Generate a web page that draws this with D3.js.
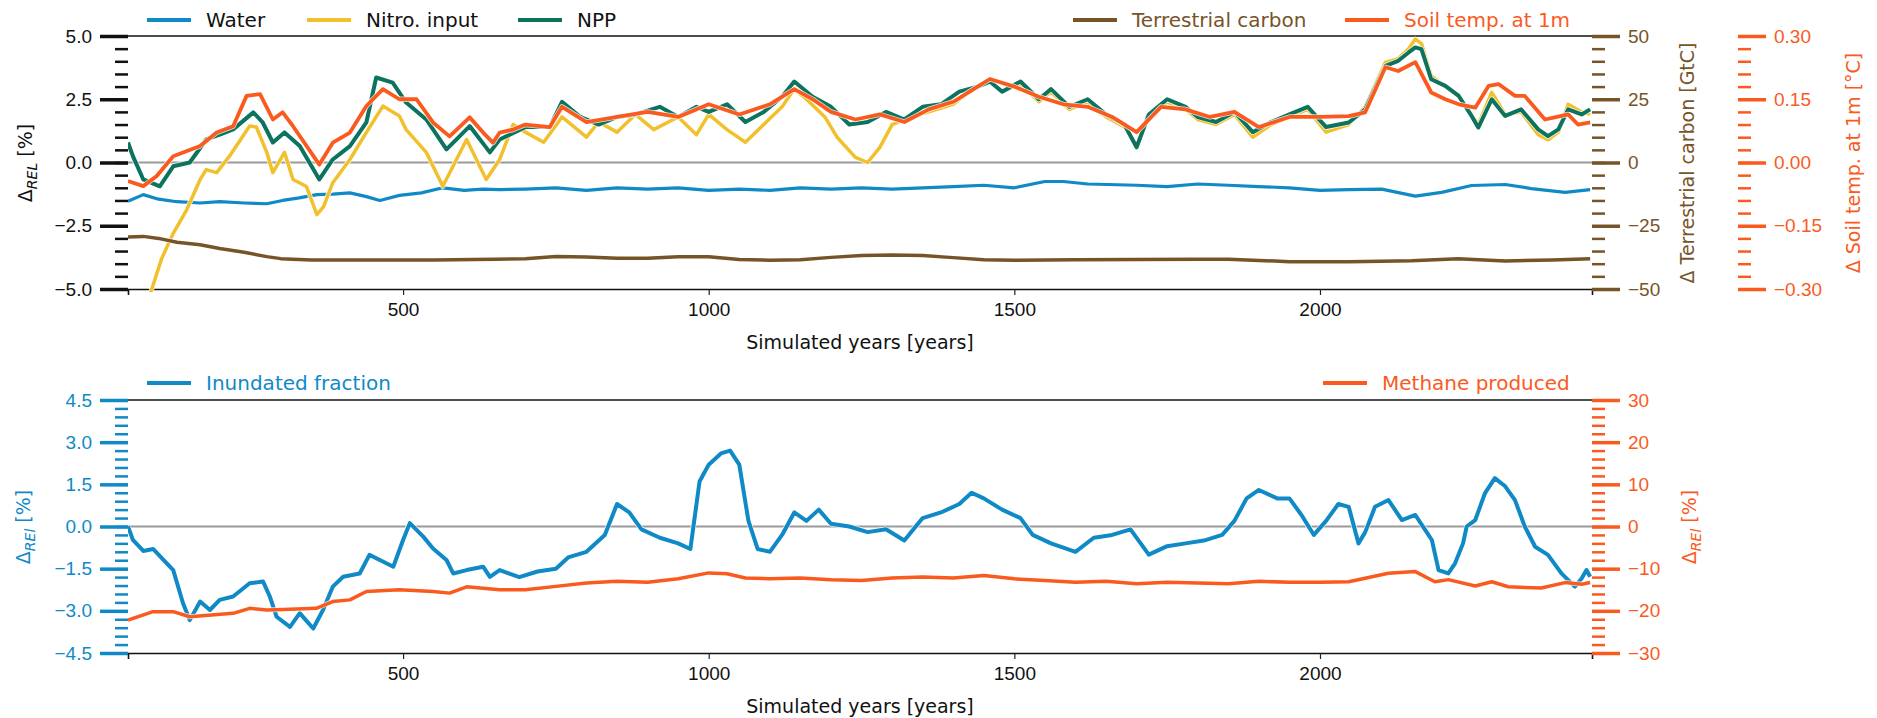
<!DOCTYPE html>
<html>
<head>
<meta charset="utf-8">
<script src="https://cdn.jsdelivr.net/npm/d3@7"></script>
<style>
  body { margin: 0; background: #fff; }
  svg { font-family: "DejaVu Sans", sans-serif; }
</style>
</head>
<body>
<div id="chart"></div>
<script>
// ---- data ----
const waterYears = [50,75,100,130,168,200,240,277,303,330,359,385,413,440,462,494,530,565,600,630,658,700,750,800,850,900,950,1000,1050,1100,1150,1200,1250,1300,1350,1400,1450,1500,1550,1580,1620,1700,1750,1800,1850,1900,1950,2000,2047,2101,2156,2199,2248,2303,2346,2401,2442];
const waterValues = [-1.53,-1.27,-1.45,-1.55,-1.6,-1.55,-1.6,-1.63,-1.5,-1.4,-1.27,-1.25,-1.2,-1.35,-1.5,-1.3,-1.2,-1.0,-1.1,-1.05,-1.07,-1.05,-1.0,-1.1,-1.0,-1.05,-1.0,-1.1,-1.05,-1.1,-1.0,-1.05,-1.0,-1.05,-1.0,-0.95,-0.9,-1.0,-0.75,-0.75,-0.85,-0.9,-0.95,-0.85,-0.9,-0.95,-1.0,-1.1,-1.07,-1.05,-1.33,-1.18,-0.91,-0.87,-1.03,-1.18,-1.07];

const nitroYears = [50,70,89,105,124,146,168,178,195,216,249,260,277,287,306,320,342,359,370,385,413,440,467,494,505,538,565,604,636,658,680,700,730,760,800,820,850,880,910,950,980,1000,1030,1060,1090,1120,1140,1160,1190,1210,1240,1260,1280,1300,1330,1360,1400,1430,1460,1480,1510,1540,1560,1590,1620,1650,1680,1700,1720,1750,1780,1800,1830,1860,1890,1920,1950,1980,2010,2047,2074,2107,2128,2145,2156,2166,2182,2205,2227,2248,2259,2281,2303,2329,2357,2373,2390,2406,2428,2442];
const nitroValues = [-7.5,-6.2,-5.0,-3.8,-2.8,-1.87,-0.67,-0.28,-0.4,0.25,1.44,1.4,0.4,-0.4,0.4,-0.67,-0.95,-2.06,-1.74,-0.8,0.12,1.19,2.23,1.84,1.3,0.4,-0.94,0.91,-0.67,0.12,1.5,1.2,0.8,1.8,1.0,1.6,1.2,1.9,1.3,1.8,1.1,1.9,1.3,0.8,1.5,2.2,2.9,2.5,1.8,1.0,0.2,0.0,0.6,1.5,1.8,2.0,2.3,2.9,3.2,2.8,3.1,2.4,2.8,2.1,2.4,1.8,1.4,0.7,1.8,2.4,2.1,1.7,1.5,1.9,1.0,1.5,1.8,2.1,1.2,1.5,2.2,3.96,4.1,4.5,4.88,4.7,3.42,3.0,2.6,1.9,1.5,2.77,1.9,2.0,1.1,0.9,1.2,2.3,2.0,1.9];

const nppYears = [50,58,75,102,124,151,178,200,222,255,270,287,306,331,363,385,413,440,456,483,505,538,571,609,642,658,700,740,760,790,820,850,880,920,950,980,1000,1030,1060,1090,1120,1140,1170,1200,1230,1260,1290,1320,1350,1380,1410,1440,1460,1480,1510,1540,1560,1590,1620,1650,1680,1700,1720,1750,1780,1800,1830,1860,1890,1920,1950,1980,2010,2047,2074,2107,2128,2145,2156,2166,2182,2205,2227,2248,2259,2281,2303,2329,2357,2373,2390,2406,2428,2442];
const nppValues = [0.79,0.25,-0.67,-0.94,-0.15,0.0,0.91,1.1,1.31,1.98,1.6,0.79,1.19,0.65,-0.67,0.12,0.65,1.59,3.36,3.16,2.37,1.7,0.52,1.44,0.4,0.91,1.4,1.4,2.4,1.8,1.5,1.8,1.9,2.2,1.8,2.2,2.0,2.3,1.6,2.0,2.6,3.2,2.6,2.2,1.5,1.6,2.0,1.7,2.2,2.3,2.8,3.0,3.2,2.8,3.2,2.5,2.9,2.2,2.5,1.9,1.5,0.6,1.9,2.5,2.2,1.8,1.6,2.0,1.2,1.6,1.9,2.2,1.4,1.58,2.1,3.82,4.02,4.35,4.55,4.48,3.29,3.03,2.63,1.84,1.38,2.5,1.84,2.1,1.31,1.04,1.31,2.1,1.9,2.1];

const carbonYears = [50,75,100,130,168,200,240,277,300,350,450,550,650,700,750,800,850,900,950,1000,1050,1100,1150,1200,1250,1300,1350,1400,1450,1500,1600,1700,1800,1850,1900,1950,2047,2100,2150,2226,2303,2380,2442];
const carbonValues = [-29.4,-29.2,-30,-31.5,-32.5,-34,-35.5,-37.2,-38,-38.5,-38.5,-38.5,-38.2,-38,-37.2,-37.4,-37.8,-37.8,-37.3,-37.3,-38.3,-38.6,-38.4,-37.5,-36.8,-36.6,-36.8,-37.6,-38.4,-38.6,-38.4,-38.3,-38.2,-38.2,-38.7,-39.2,-39.2,-39.0,-38.8,-38.0,-38.9,-38.5,-38.0];

const soilYears = [50,75,97,124,168,195,222,244,266,287,303,320,363,385,413,440,467,494,522,549,576,609,631,647,658,680,700,740,760,800,850,900,950,1000,1050,1100,1140,1170,1200,1240,1280,1320,1360,1400,1440,1460,1500,1540,1580,1620,1660,1700,1740,1780,1820,1860,1900,1950,2000,2047,2074,2107,2128,2156,2182,2205,2227,2254,2276,2292,2319,2335,2368,2384,2406,2422,2442];
const soilValues = [-0.044,-0.056,-0.032,0.015,0.039,0.071,0.086,0.158,0.162,0.102,0.119,0.086,-0.005,0.047,0.071,0.134,0.174,0.150,0.150,0.095,0.062,0.107,0.071,0.047,0.071,0.078,0.090,0.084,0.132,0.096,0.108,0.120,0.108,0.138,0.114,0.138,0.174,0.150,0.120,0.102,0.114,0.096,0.126,0.144,0.180,0.198,0.180,0.156,0.138,0.132,0.108,0.072,0.132,0.126,0.108,0.120,0.084,0.108,0.108,0.110,0.119,0.226,0.217,0.238,0.166,0.150,0.138,0.130,0.182,0.186,0.158,0.158,0.102,0.107,0.114,0.090,0.095];

const inundYears = [50,58,75,91,108,124,140,151,168,184,200,222,249,271,282,293,315,331,353,369,385,402,429,445,462,484,500,511,533,549,571,582,604,631,642,658,690,720,750,770,800,830,850,870,890,920,950,970,985,1000,1020,1035,1050,1065,1080,1100,1120,1140,1160,1180,1200,1230,1260,1290,1320,1350,1380,1410,1430,1450,1480,1510,1530,1560,1600,1630,1660,1690,1720,1750,1780,1810,1840,1860,1880,1900,1930,1950,1970,1990,2010,2030,2047,2063,2074,2090,2112,2134,2156,2172,2183,2194,2210,2221,2234,2240,2254,2270,2286,2303,2319,2335,2352,2373,2395,2417,2428,2436,2442];
const inundValues = [0,-0.48,-0.87,-0.8,-1.19,-1.55,-2.73,-3.33,-2.67,-2.97,-2.61,-2.49,-2.02,-1.96,-2.49,-3.21,-3.57,-3.08,-3.63,-2.97,-2.14,-1.79,-1.67,-1.01,-1.19,-1.43,-0.48,0.12,-0.36,-0.78,-1.19,-1.67,-1.55,-1.43,-1.79,-1.55,-1.8,-1.6,-1.5,-1.1,-0.9,-0.3,0.8,0.5,-0.1,-0.4,-0.6,-0.8,1.6,2.2,2.6,2.7,2.2,0.2,-0.8,-0.9,-0.3,0.5,0.2,0.6,0.1,0.0,-0.2,-0.1,-0.5,0.3,0.5,0.8,1.2,1.0,0.6,0.3,-0.3,-0.6,-0.9,-0.4,-0.3,-0.1,-1.0,-0.7,-0.6,-0.5,-0.3,0.2,1.0,1.3,1.0,1.0,0.4,-0.3,0.2,0.8,0.7,-0.6,-0.2,0.7,0.94,0.23,0.41,-0.12,-0.48,-1.55,-1.67,-1.31,-0.6,0,0.23,1.19,1.72,1.43,0.94,0,-0.72,-1.01,-1.67,-2.14,-1.85,-1.55,-1.79];

const methaneYears = [50,91,124,151,222,249,277,304,358,385,413,440,494,549,576,604,658,700,750,800,850,900,950,1000,1030,1060,1100,1150,1200,1250,1300,1350,1400,1450,1500,1550,1600,1650,1700,1750,1800,1850,1900,1950,2000,2047,2112,2156,2188,2210,2254,2281,2308,2362,2401,2428,2442];
const methaneValues = [-22.2,-20.2,-20.2,-21.4,-20.6,-19.4,-19.8,-19.7,-19.4,-17.8,-17.4,-15.4,-15.0,-15.4,-15.8,-14.3,-15.0,-15.0,-14.2,-13.4,-13.0,-13.2,-12.4,-11.0,-11.2,-12.2,-12.4,-12.2,-12.6,-12.8,-12.2,-12.0,-12.2,-11.6,-12.4,-12.8,-13.2,-13.0,-13.6,-13.2,-13.4,-13.6,-13.0,-13.2,-13.2,-13.1,-11.1,-10.7,-13.1,-12.6,-14.1,-13.1,-14.3,-14.6,-13.3,-13.7,-13.3];

const xTicks = [500, 1000, 1500, 2000];
const relTicks = [-5, -2.5, 0, 2.5, 5];
const carbonTicks = [-50, -25, 0, 25, 50];
const soilTicks = [-0.3, -0.15, 0, 0.15, 0.3];
const inundTicks = [-4.5, -3, -1.5, 0, 1.5, 3, 4.5];
const methaneTicks = [-30, -20, -10, 0, 10, 20, 30];

// ---- colours ----
const cWater = "#0f8ac6", cNitro = "#f1c02c", cNpp = "#0b735e",
      cCarbon = "#775428", cSoil = "#fa5a1e", cInk = "#111";

const W = 1877, H = 718;
const svg = d3.select("#chart").append("svg").attr("width", W).attr("height", H);

const x = d3.scaleLinear().domain([50, 2445]).range([128, 1592]);
const fmtMinus = s => s.replace("-", "\u2212");

function zip(xs, ys) { return xs.map((d, i) => [d, ys[i]]); }

// y-axis with thick major & minor ticks
function yAxis(g, scale, side, xpos, majors, minorStep, color, fmt) {
  const axisFn = side === "left" ? d3.axisLeft : d3.axisRight;
  const [lo, hi] = scale.domain();
  const minors = d3.range(Math.round((hi - lo) / minorStep) + 1).map(i => lo + i * minorStep);
  const gMin = g.append("g").attr("transform", `translate(${xpos},0)`)
    .call(axisFn(scale).tickValues(minors).tickSize(13).tickFormat(""));
  gMin.selectAll("line").attr("stroke", color).attr("stroke-width", 2.5);
  const gMaj = g.append("g").attr("transform", `translate(${xpos},0)`)
    .call(axisFn(scale).tickValues(majors).tickSize(28).tickPadding(8).tickFormat(d => fmtMinus(fmt(d))));
  gMaj.selectAll("line").attr("stroke", color).attr("stroke-width", 3.5);
  gMaj.selectAll("text").attr("fill", color).style("font-size", "19px");
  g.selectAll(".domain").remove();
}

function panel(top, bottom) {
  const g = svg.append("g");
  // spines
  g.append("line").attr("x1", x.range()[0]).attr("x2", x.range()[1]).attr("y1", top).attr("y2", top)
    .attr("stroke", cInk).attr("stroke-width", 1.6);
  const gx = g.append("g").attr("transform", `translate(0,${bottom})`)
    .call(d3.axisBottom(x).tickValues(xTicks).tickSize(6).tickPadding(8).tickFormat(d3.format("d")));
  gx.select(".domain").attr("stroke", cInk).attr("stroke-width", 1.6);
  gx.selectAll("line").attr("stroke", "#222").attr("stroke-width", 1.2);
  gx.selectAll("text").attr("fill", cInk).style("font-size", "19px");
  g.append("text").attr("x", (x.range()[0] + x.range()[1]) / 2).attr("y", bottom + 60)
    .attr("text-anchor", "middle").attr("fill", cInk).style("font-size", "19px")
    .text("Simulated years [years]");
  return g;
}

function clip(id, top, bottom) {
  svg.append("clipPath").attr("id", id).append("rect")
    .attr("x", x.range()[0]).attr("y", top - 3).attr("width", x.range()[1] - x.range()[0]).attr("height", bottom - top + 6);
}

function drawLine(g, data, yScale, color, width, clipId) {
  const line = d3.line().x(d => x(d[0])).y(d => yScale(d[1]));
  // faint white halo like the original path effect
  g.append("path").datum(data)
    .attr("clip-path", `url(#${clipId})`)
    .attr("fill", "none").attr("stroke", "#fff").attr("stroke-opacity", 0.8).attr("stroke-width", width + 1.5)
    .attr("stroke-linejoin", "round").attr("d", line);
  g.append("path").datum(data)
    .attr("clip-path", `url(#${clipId})`)
    .attr("fill", "none").attr("stroke", color).attr("stroke-width", width)
    .attr("stroke-linejoin", "round").attr("d", line);
}

function legendItem(xl, y, color, label, textColor) {
  svg.append("line").attr("x1", xl).attr("x2", xl + 44).attr("y1", y).attr("y2", y)
    .attr("stroke", color).attr("stroke-width", 4);
  svg.append("text").attr("x", xl + 59).attr("y", y).attr("dy", "0.35em")
    .attr("fill", textColor).style("font-size", "20px").text(label);
}

function yLabel(xc, yc, color, parts) {
  const t = svg.append("text").attr("transform", `translate(${xc},${yc}) rotate(-90)`)
    .attr("text-anchor", "middle").attr("dy", "0.35em").attr("fill", color).style("font-size", "19px");
  parts.forEach(p => {
    const s = t.append("tspan").text(p.t);
    if (p.sub) s.style("font-size", "14px").style("font-style", "italic").attr("dy", "5");
    if (p.up) s.attr("dy", "-5");
  });
}

// ================= top panel =================
const tTop = 36, tBot = 289;
const yRel = d3.scaleLinear().domain([-5, 5]).range([tBot, tTop]);
const yCarbon = d3.scaleLinear().domain([-50, 50]).range([tBot, tTop]);
const ySoil = d3.scaleLinear().domain([-0.3, 0.3]).range([tBot, tTop]);

const gTop = panel(tTop, tBot);
clip("clipTop", tTop, tBot);
gTop.append("line").attr("x1", x.range()[0]).attr("x2", x.range()[1])
  .attr("y1", yRel(0)).attr("y2", yRel(0)).attr("stroke", "#9a9a9a").attr("stroke-width", 2);

yAxis(gTop.append("g"), yRel, "left", 128, relTicks, 0.5, cInk, d3.format(".1f"));
yAxis(gTop.append("g"), yCarbon, "right", 1592, carbonTicks, 5, cCarbon, d3.format("d"));
yAxis(gTop.append("g"), ySoil, "right", 1738, soilTicks, 0.03, cSoil, d3.format(".2f"));

drawLine(gTop, zip(waterYears, waterValues), yRel, cWater, 3.2, "clipTop");
drawLine(gTop, zip(nitroYears, nitroValues), yRel, cNitro, 3.5, "clipTop");
drawLine(gTop, zip(nppYears, nppValues), yRel, cNpp, 4, "clipTop");
drawLine(gTop, zip(carbonYears, carbonValues), yCarbon, cCarbon, 3.5, "clipTop");
drawLine(gTop, zip(soilYears, soilValues), ySoil, cSoil, 3.8, "clipTop");

legendItem(147, 20, cWater, "Water", cInk);
legendItem(307, 20, cNitro, "Nitro. input", cInk);
legendItem(518, 20, cNpp, "NPP", cInk);
legendItem(1073, 20, cCarbon, "Terrestrial carbon", cCarbon);
legendItem(1345, 20, cSoil, "Soil temp. at 1m", cSoil);

yLabel(25, 163, cInk, [{t: "\u0394"}, {t: "REL", sub: true}, {t: " [%]", up: true}]);
yLabel(1687, 163, cCarbon, [{t: "\u0394 Terrestrial carbon [GtC]"}]);
yLabel(1853, 163, cSoil, [{t: "\u0394 Soil temp. at 1m [\u00b0C]"}]);

// ================= bottom panel =================
const bTop = 400, bBot = 653;
const yInund = d3.scaleLinear().domain([-4.5, 4.5]).range([bBot, bTop]);
const yMeth = d3.scaleLinear().domain([-30, 30]).range([bBot, bTop]);

const gBot = panel(bTop, bBot);
clip("clipBot", bTop, bBot);
gBot.append("line").attr("x1", x.range()[0]).attr("x2", x.range()[1])
  .attr("y1", yInund(0)).attr("y2", yInund(0)).attr("stroke", "#9a9a9a").attr("stroke-width", 2);

yAxis(gBot.append("g"), yInund, "left", 128, inundTicks, 0.3, cWater, d3.format(".1f"));
yAxis(gBot.append("g"), yMeth, "right", 1592, methaneTicks, 2, cSoil, d3.format("d"));

drawLine(gBot, zip(inundYears, inundValues), yInund, cWater, 4, "clipBot");
drawLine(gBot, zip(methaneYears, methaneValues), yMeth, cSoil, 3.5, "clipBot");

legendItem(147, 383, cWater, "Inundated fraction", cWater);
legendItem(1323, 383, cSoil, "Methane produced", cSoil);

yLabel(23, 527, cWater, [{t: "\u0394"}, {t: "REl", sub: true}, {t: " [%]", up: true}]);
yLabel(1689, 527, cSoil, [{t: "\u0394"}, {t: "REl", sub: true}, {t: " [%]", up: true}]);
</script>
</body>
</html>
